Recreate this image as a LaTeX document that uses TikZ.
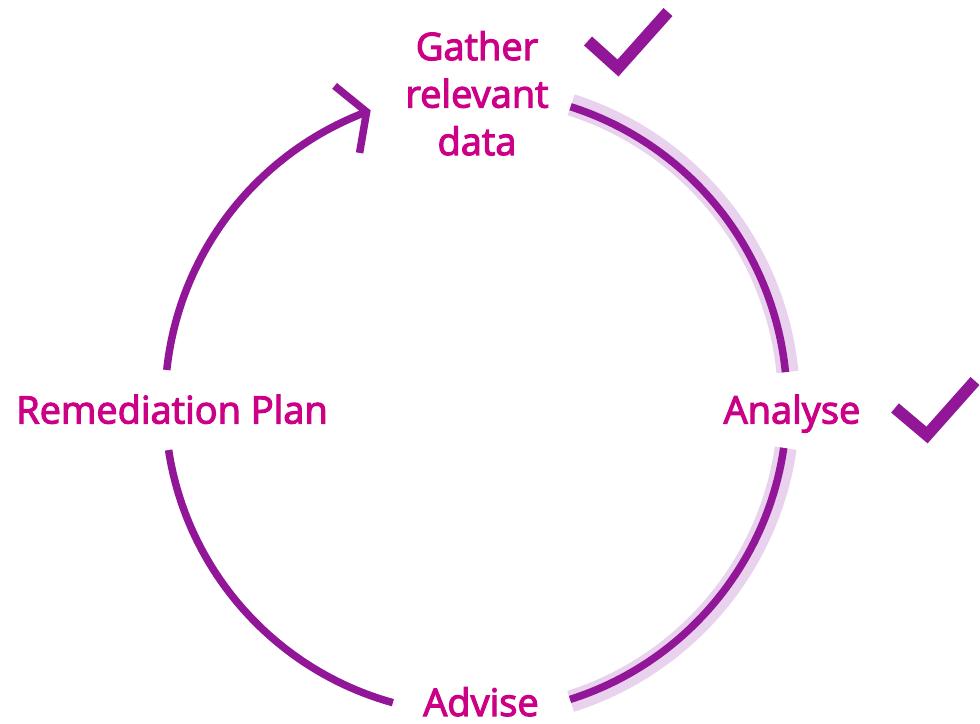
\documentclass[tikz,border=0pt]{standalone}
\usepackage{fontspec}
\setmainfont{Open Sans}[FakeBold=3]
\definecolor{ringc}{RGB}{146,22,152}
\definecolor{haloc}{RGB}{233,210,237}
\definecolor{textc}{RGB}{204,0,134}
\begin{document}
\begin{tikzpicture}[x=1pt,y=-1pt,
  ring/.style={draw=ringc,line width=7.5pt,line cap=butt},
  halo/.style={draw=haloc,line width=22pt,line cap=butt},
  tick/.style={draw=ringc,line width=12pt,line cap=butt,line join=miter},
  lbl/.style={text=textc,inner sep=0pt,font=\fontsize{38}{47.5}\selectfont}]
\useasboundingbox (0,0) rectangle (980,723);
\coordinate (C) at (476,403);
% halo on the completed part
\draw[halo] ([shift={(-72.3:313)}]C) arc[start angle=-72.3,end angle=-5.7,radius=313];
\draw[halo] ([shift={(8.3:313)}]C) arc[start angle=8.3,end angle=72.4,radius=313];
% ring arcs
\draw[ring] ([shift={(-72.3:311)}]C) arc[start angle=-72.3,end angle=-5.7,radius=311];
\draw[ring] ([shift={(8.3:311)}]C) arc[start angle=8.3,end angle=72.4,radius=311];
\draw[ring] ([shift={(-188.7:311)}]C) arc[start angle=-188.7,end angle=-254.5,radius=311];
\draw[ring] ([shift={(-173.9:311)}]C) arc[start angle=-173.9,end angle=-110.6,radius=311];
% arrow head
\coordinate (tip) at ([shift={(-110.6:311)}]C);
\coordinate (a1) at ([shift={(-32,-26)}]tip);
\coordinate (a2) at ([shift={(-7,41)}]tip);
\draw[ring,line join=miter] (a1) -- (tip) -- (a2);
% labels
\node[lbl,anchor=north,align=center] (gather) at (477,31) {Gather\\relevant\\data};
\node[lbl,anchor=base] (analyse) at (792,423.5) {Analyse};
\node[lbl,anchor=base] (remed) at (172,423.5) {Remediation Plan};
\node[lbl,anchor=base] (advise) at (481,716) {Advise};
% check marks
\coordinate (c1a) at (588,41); \coordinate (c1b) at (618,68); \coordinate (c1c) at (668,12);
\draw[tick] (c1a) -- (c1b) -- (c1c);
\coordinate (c2a) at (895,408); \coordinate (c2b) at (927,435); \coordinate (c2c) at (975,381);
\draw[tick] (c2a) -- (c2b) -- (c2c);
\end{tikzpicture}
\end{document}
